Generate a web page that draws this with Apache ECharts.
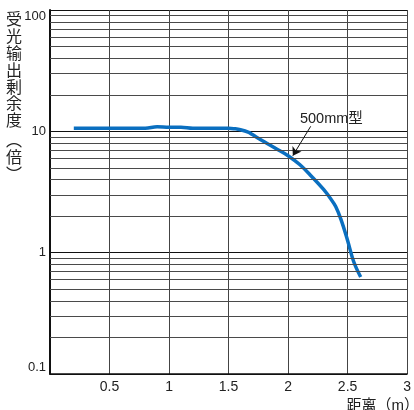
<!DOCTYPE html>
<html>
<head>
<meta charset="utf-8">
<script src="https://cdn.jsdelivr.net/npm/echarts@6/dist/echarts.min.js"></script>
<style>
  html, body { margin: 0; padding: 0; background: #fff; }
  #chart { width: 414px; height: 410px; }
</style>
</head>
<body>
<div id="chart"></div>
<script>
// Distance (m) and received-light excess gain (times) for the 500mm model
var distance = [0.2, 0.5, 0.8, 0.9, 1.0, 1.1, 1.2, 1.5, 1.55, 1.6, 1.67, 1.7, 1.8, 1.9, 2.0, 2.1, 2.2, 2.3, 2.35, 2.4, 2.45, 2.5, 2.55, 2.61];
var gain = [10.6, 10.6, 10.6, 10.9, 10.8, 10.8, 10.6, 10.6, 10.5, 10.3, 9.8, 9.4, 8.2, 7.2, 6.3, 5.3, 4.23, 3.31, 2.85, 2.4, 1.81, 1.26, 0.85, 0.63];

// Log-axis minor grid values (2..9 within each decade)
var minorGrid = [0.2, 0.3, 0.4, 0.5, 0.6, 0.7, 0.8, 0.9,
                 2, 3, 4, 5, 6, 7, 8, 9,
                 20, 30, 40, 50, 60, 70, 80, 90];

var seriesName = '500mm型';
var yTitle = '受光输出剰余度';
var yUnit = '︵倍︶';
var xTitle = '距离（m）';

var FONT = '"Liberation Sans", "Noto Sans CJK JP", sans-serif';
var CJK = '"Noto Sans CJK JP", sans-serif';

var chart = echarts.init(document.getElementById('chart'), null, { renderer: 'canvas' });

chart.setOption({
  animation: false,
  backgroundColor: '#fff',
  grid: { left: 50, right: 4, top: 10, bottom: 36, containLabel: false },
  xAxis: {
    type: 'value',
    min: 0, max: 3, interval: 0.5,
    axisLine: { show: true, lineStyle: { color: '#111', width: 1.5 } },
    axisTick: { show: false },
    axisLabel: {
      color: '#222', fontSize: 14, fontFamily: FONT, margin: 6,
      formatter: function (v) { return v === 0 ? '' : String(v); }
    },
    splitLine: { show: true, lineStyle: { color: '#444', width: 1 } }
  },
  yAxis: {
    type: 'log', logBase: 10,
    min: 0.1, max: 100,
    axisLine: { show: true, lineStyle: { color: '#111', width: 2 } },
    axisTick: { show: false },
    axisLabel: {
      color: '#222', fontSize: 13, fontFamily: FONT, margin: 4,
      verticalAlignMaxLabel: 'top',
      verticalAlignMinLabel: 'bottom',
      formatter: function (v) { return String(+v.toPrecision(3)); }
    },
    splitLine: { show: true, lineStyle: { color: '#111', width: 1 } },
    minorTick: { show: false },
    minorSplitLine: { show: false }
  },
  graphic: [
    {
      // vertical axis title, one character per line
      type: 'text', left: 6, top: 11,
      style: {
        text: yTitle.split('').join('\n'),
        fontSize: 16, fontFamily: CJK, fill: '#222', lineHeight: 16.8
      }
    },
    {
      // unit with vertical-form parentheses
      type: 'text', left: 6, top: 131,
      style: {
        text: yUnit.split('').join('\n'),
        fontSize: 16, fontFamily: CJK, fill: '#222', lineHeight: 17
      }
    },
    {
      type: 'text', right: -5, top: 398,
      style: { text: xTitle, fontSize: 15, fontFamily: FONT, fill: '#222' }
    }
  ],
  series: [
    {
      type: 'line',
      data: [],
      z: 1,
      silent: true,
      markLine: {
        silent: true,
        symbol: ['none', 'none'],
        label: { show: false },
        lineStyle: { color: '#4a4a4a', width: 1, type: 'solid' },
        emphasis: { disabled: true },
        data: minorGrid.map(function (v) { return { yAxis: v }; })
      }
    },
    {
      name: seriesName,
      type: 'line',
      z: 3,
      smooth: 0.4,
      symbol: 'none',
      lineStyle: { color: '#0a6fc0', width: 3.5 },
      data: distance.map(function (d, i) { return [d, gain[i]]; }),
      markLine: {
        silent: true,
        symbol: ['none', 'arrow'],
        symbolSize: 8,
        label: { show: false },
        lineStyle: { color: '#111', width: 1, type: 'solid' },
        emphasis: { disabled: true },
        data: [[{ coord: [2.19, 11.0] }, { coord: [2.04, 6.3] }]]
      },
      markPoint: {
        silent: true,
        symbol: 'circle',
        symbolSize: 0,
        label: {
          show: true, position: 'right', distance: 0,
          color: '#222', fontSize: 14.5, fontFamily: FONT,
          formatter: seriesName
        },
        data: [{ coord: [2.1, 12.56] }]
      }
    }
  ]
});
</script>
</body>
</html>
